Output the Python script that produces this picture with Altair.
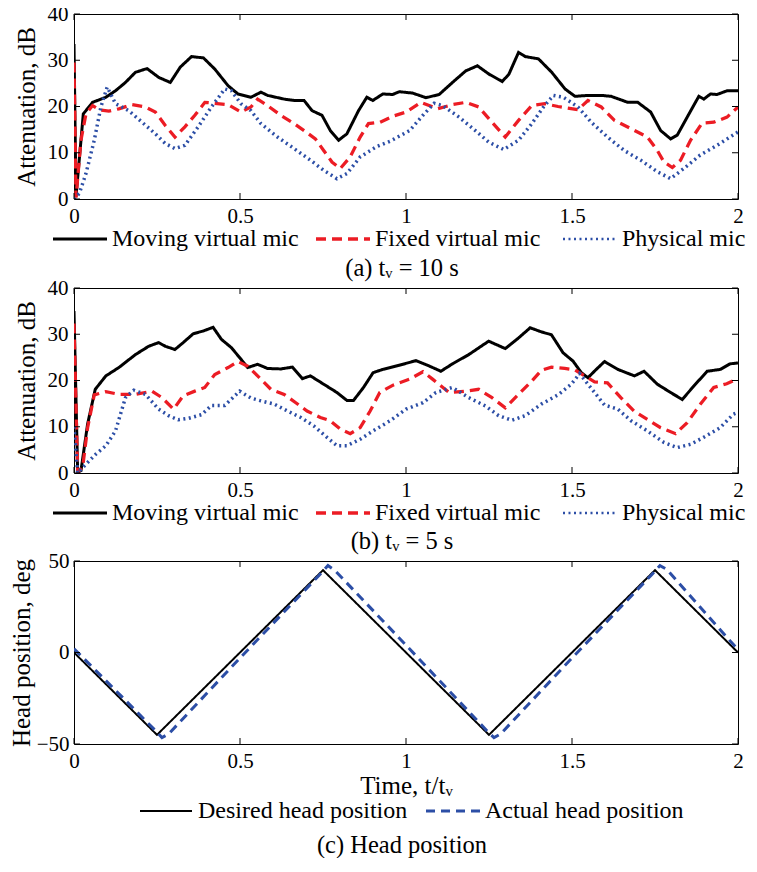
import altair as alt
import pandas as pd

FONT = "Liberation Serif"
W = 664
H_A, H_B, H_C = 185, 185, 183

# ---------------- data: panel (a) t_v = 10 s ----------------
a_mov_t = [0, 0.006, 0.028, 0.056, 0.096, 0.125, 0.155, 0.185, 0.22, 0.255, 0.29, 0.32, 0.354, 0.39, 0.424,
           0.464, 0.494, 0.533, 0.563, 0.583, 0.633, 0.663, 0.693, 0.717, 0.747, 0.772, 0.797, 0.822, 0.857, 0.882,
           0.9, 0.93, 0.96, 0.98, 1.02, 1.06, 1.1, 1.14, 1.18, 1.215, 1.25, 1.29, 1.31, 1.339, 1.359,
           1.399, 1.439, 1.479, 1.509, 1.548, 1.588, 1.618, 1.668, 1.698, 1.737, 1.767, 1.797, 1.817, 1.847, 1.882,
           1.897, 1.917, 1.937, 1.967, 2.0]
a_mov_v = [33.5, 0.5, 18.4, 20.9, 22.0, 23.4, 25.2, 27.4, 28.2, 26.3, 25.2, 28.5, 30.8, 30.5, 28.1,
           24.5, 22.7, 22.0, 23.1, 22.4, 21.6, 21.3, 21.3, 19.1, 18.1, 14.8, 12.7, 14.1, 19.1, 22.0,
           21.3, 22.7, 22.6, 23.2, 22.9, 21.9, 22.6, 25.2, 27.7, 28.8, 27.0, 25.4, 27.0, 31.7, 30.8,
           30.3, 27.4, 23.8, 22.2, 22.4, 22.4, 22.2, 20.9, 20.9, 18.8, 14.8, 13.0, 13.8, 17.7, 22.2,
           21.6, 22.7, 22.6, 23.4, 23.4]
a_fix_t = [0, 0.006, 0.021, 0.036, 0.056, 0.076, 0.105, 0.135, 0.175, 0.215, 0.245, 0.275, 0.304, 0.334, 0.364,
           0.394, 0.424, 0.464, 0.503, 0.533, 0.553, 0.583, 0.623, 0.663, 0.693, 0.727, 0.752, 0.777, 0.802, 0.832,
           0.862, 0.887, 0.922, 0.961, 1.0, 1.045, 1.095, 1.14, 1.18, 1.219, 1.259, 1.299, 1.339, 1.379, 1.418,
           1.458, 1.518, 1.548, 1.588, 1.628, 1.678, 1.727, 1.757, 1.777, 1.802, 1.827, 1.857, 1.892, 1.927, 1.967,
           2.0]
a_fix_v = [29.5, 0.3, 12.7, 18.4, 20.2, 19.3, 19.0, 19.5, 20.4, 19.9, 18.8, 15.9, 13.4, 15.6, 18.1,
           20.9, 20.7, 20.4, 18.8, 19.9, 21.6, 20.2, 18.1, 16.3, 14.8, 13.0, 10.5, 8.0, 6.6, 9.1,
           13.4, 16.3, 16.6, 17.9, 18.8, 20.9, 19.5, 20.4, 20.9, 19.9, 16.6, 13.4, 17.0, 20.2, 20.6,
           20.0, 19.3, 21.3, 19.9, 17.0, 15.2, 13.4, 10.5, 8.0, 6.8, 8.4, 12.7, 16.4, 16.6, 17.7,
           19.9]
a_phy_t = [0, 0.016, 0.036, 0.061, 0.081, 0.1, 0.125, 0.165, 0.205, 0.245, 0.275, 0.304, 0.334, 0.374, 0.414,
           0.454, 0.474, 0.503, 0.533, 0.563, 0.613, 0.663, 0.712, 0.752, 0.792, 0.822, 0.862, 0.911, 0.952, 1.011,
           1.051, 1.085, 1.11, 1.16, 1.209, 1.249, 1.294, 1.339, 1.379, 1.414, 1.444, 1.474, 1.518, 1.558, 1.607,
           1.657, 1.707, 1.757, 1.797, 1.837, 1.886, 1.937, 2.0]
a_phy_v = [0, 1.2, 5.5, 12.7, 19.9, 24.2, 20.6, 19.1, 16.6, 14.1, 12.0, 10.9, 11.6, 15.6, 19.9,
           23.8, 23.4, 20.6, 19.1, 16.3, 13.4, 10.9, 8.4, 6.2, 4.4, 5.5, 9.1, 11.3, 12.5, 14.8,
           18.1, 20.7, 20.2, 17.7, 14.8, 12.3, 10.7, 12.7, 16.3, 19.9, 22.4, 22.0, 19.9, 16.6, 13.4,
           10.5, 8.4, 5.9, 4.4, 6.6, 9.5, 11.6, 14.5]

# ---------------- data: panel (b) t_v = 5 s ----------------
b_mov_t = [0, 0.011, 0.021, 0.041, 0.064, 0.096, 0.135, 0.185, 0.225, 0.255, 0.275, 0.304, 0.329, 0.359, 0.389,
           0.419, 0.444, 0.474, 0.503, 0.523, 0.553, 0.583, 0.623, 0.658, 0.688, 0.712, 0.752, 0.792, 0.822, 0.842,
           0.872, 0.901, 0.93, 0.98, 1.03, 1.071, 1.105, 1.14, 1.189, 1.249, 1.299, 1.339, 1.374, 1.408, 1.438,
           1.473, 1.503, 1.528, 1.548, 1.573, 1.598, 1.638, 1.688, 1.717, 1.757, 1.797, 1.832, 1.867, 1.907, 1.947,
           1.976, 2.0]
b_mov_v = [35, 0.2, 0.5, 10.6, 18.1, 21.0, 22.8, 25.6, 27.4, 28.2, 27.4, 26.7, 28.2, 30.1, 30.7,
           31.5, 28.9, 27.1, 24.6, 22.8, 23.5, 22.6, 22.5, 22.9, 20.4, 21.0, 19.2, 17.4, 15.7, 15.7,
           18.5, 21.7, 22.4, 23.3, 24.3, 23.1, 22.0, 23.6, 25.6, 28.5, 26.9, 29.2, 31.4, 30.5, 29.9,
           26.0, 24.2, 21.7, 20.6, 22.4, 24.1, 22.4, 21.0, 22.0, 19.2, 17.4, 15.9, 18.8, 22.0, 22.4,
           23.6, 23.8]
b_fix_t = [0, 0.011, 0.026, 0.041, 0.061, 0.096, 0.135, 0.185, 0.235, 0.265, 0.3, 0.329, 0.364, 0.394, 0.424,
           0.464, 0.494, 0.523, 0.553, 0.593, 0.633, 0.668, 0.702, 0.742, 0.772, 0.802, 0.832, 0.862, 0.892, 0.921,
           0.961, 0.98, 1.011, 1.051, 1.08, 1.13, 1.18, 1.219, 1.259, 1.299, 1.339, 1.379, 1.408, 1.438, 1.478,
           1.508, 1.538, 1.568, 1.607, 1.647, 1.687, 1.727, 1.767, 1.812, 1.847, 1.887, 1.927, 1.966, 2.0]
b_fix_v = [32.3, 0.2, 1.2, 9.8, 16.9, 17.6, 17.0, 17.0, 17.7, 16.3, 13.8, 16.7, 17.7, 18.5, 21.3,
           22.8, 24.1, 23.1, 21.0, 18.1, 17.0, 15.2, 13.4, 12.0, 11.3, 9.5, 8.5, 9.8, 13.4, 17.4,
           19.0, 19.5, 20.3, 21.9, 20.3, 17.4, 17.7, 18.1, 16.3, 14.1, 17.0, 19.9, 22.2, 22.9, 22.6,
           22.3, 21.0, 19.7, 19.5, 16.3, 13.4, 11.6, 9.8, 8.5, 10.9, 14.9, 18.5, 19.3, 20.4]
b_phy_t = [0, 0.011, 0.036, 0.066, 0.096, 0.125, 0.155, 0.18, 0.215, 0.255, 0.285, 0.314, 0.344, 0.384, 0.414,
           0.454, 0.499, 0.533, 0.563, 0.603, 0.643, 0.683, 0.722, 0.762, 0.792, 0.822, 0.862, 0.901, 0.952, 1.0,
           1.051, 1.09, 1.14, 1.189, 1.239, 1.279, 1.319, 1.359, 1.408, 1.458, 1.498, 1.523, 1.548, 1.598, 1.638,
           1.678, 1.727, 1.777, 1.817, 1.857, 1.896, 1.946, 1.986, 2.0]
b_phy_v = [10, 0, 1.9, 4.1, 5.9, 9.1, 16.3, 17.9, 17.0, 13.8, 12.4, 11.5, 11.8, 12.6, 14.6,
           14.6, 17.7, 16.2, 15.6, 14.9, 13.4, 12.0, 10.2, 7.7, 5.9, 5.9, 7.3, 9.1, 11.3, 13.8,
           15.2, 17.4, 18.5, 16.3, 14.5, 12.4, 11.4, 12.4, 14.9, 16.9, 19.2, 21.5, 19.2, 14.7, 13.8,
           11.3, 9.1, 6.6, 5.5, 6.2, 7.7, 9.8, 12.7, 13.1]

# ---------------- data: panel (c) head position ----------------
c_des_t = [0, 0.25, 0.75, 1.25, 1.75, 2.0]
c_des_v = [0, -45, 45, -45, 45, 0]
c_act_t = [0, 0.05, 0.25, 0.265, 0.285, 0.5, 0.74, 0.765, 0.785, 1.0, 1.245, 1.265, 1.285, 1.5, 1.74, 1.765,
           1.785, 2.0]
c_act_v = [2, -7, -43.5, -46.5, -44.5, -3, 42.5, 47.5, 45, 4, -43, -46.5, -44.5, -3, 42.5, 47.5,
           45.5, 1.5]

# ---------------- labels / ticks ----------------
mic_names = ["Moving virtual mic", "Fixed virtual mic", "Physical mic"]
head_names = ["Desired head position", "Actual head position"]
x_ticks = [0, 0.5, 1, 1.5, 2]
att_ticks = [0, 10, 20, 30, 40]
head_ticks = [-50, 0, 50]
captions = ["(a) tᵥ = 10 s", "(b) tᵥ = 5 s", "(c) Head position"]
x_title = "Time, t/tᵥ"
att_title = "Attenuation, dB"
head_title = "Head position, deg"

# ---------------- styles ----------------
BLACK = "#000000"
RED = "#ec1c24"
BLUE = "#2c4ea6"
mic_colors = [BLACK, RED, BLUE]
mic_dashes = [[1, 0], [10, 6], [2, 3.5]]
mic_widths = [3, 3.5, 2.5]
head_colors = [BLACK, BLUE]
head_dashes = [[1, 0], [9, 6]]
head_widths = [2, 3]

# legend / caption layout (pixels, relative to each plot's top-left corner)
MIC_LEG_SYM = [(-21, 33), (242, 296), (489, 543)]
MIC_LEG_TXT = [38, 301, 548]
HEAD_LEG_SYM = [(66, 118), (352, 406)]
HEAD_LEG_TXT = [124, 411]
CAP_X = 328


def long_df(series):
    rows = []
    for name, ts, vs in series:
        for t, v in zip(ts, vs):
            rows.append({"t": t, "v": v, "s": name})
    return pd.DataFrame(rows)


def panel(df, names, colors, dashes, widths, ydomain, yticks, ytitle, h,
          caption, leg_sym, leg_txt, leg_y, cap_y, xtitle=None, ytitle_pad=6, ylabel_pad=6):
    xaxis = alt.Axis(values=x_ticks, labelFont=FONT, labelFontSize=21, labelColor="black",
                     labelPadding=6, domain=False, ticks=False, grid=False, labelFlush=False,
                     format="~g", title=xtitle if xtitle else None,
                     titleFont=FONT, titleFontSize=25, titleFontWeight="normal", titleColor="black",
                     titlePadding=2)
    yaxis = alt.Axis(values=yticks, labelFont=FONT, labelFontSize=21, labelColor="black",
                     labelPadding=ylabel_pad, domain=False, ticks=False, grid=False, labelFlush=False,
                     title=ytitle, titleFont=FONT, titleFontSize=25, titleFontWeight="normal",
                     titleColor="black", titlePadding=ytitle_pad)
    x = alt.X("t:Q", scale=alt.Scale(domain=[0, 2], nice=False, zero=False), axis=xaxis)
    y = alt.Y("v:Q", scale=alt.Scale(domain=ydomain, nice=False, zero=False), axis=yaxis)
    lines = alt.Chart(df).mark_line(clip=True).encode(
        x=x, y=y,
        color=alt.Color("s:N", scale=alt.Scale(domain=names, range=colors), legend=None),
        strokeDash=alt.StrokeDash("s:N", scale=alt.Scale(domain=names, range=dashes), legend=None),
        strokeWidth=alt.StrokeWidth("s:N", scale=alt.Scale(domain=names, range=widths), legend=None),
    )
    L = 6
    xdf = pd.DataFrame({"t": x_ticks})
    ydf = pd.DataFrame({"v": yticks})
    layers = [lines]
    layers.append(alt.Chart(xdf).mark_rule(color="black", strokeWidth=1).encode(
        x=x, y=alt.value(0), y2=alt.value(L)))
    layers.append(alt.Chart(xdf).mark_rule(color="black", strokeWidth=1).encode(
        x=x, y=alt.value(h - L), y2=alt.value(h)))
    layers.append(alt.Chart(ydf).mark_rule(color="black", strokeWidth=1).encode(
        y=y, x=alt.value(0), x2=alt.value(L)))
    layers.append(alt.Chart(ydf).mark_rule(color="black", strokeWidth=1).encode(
        y=y, x=alt.value(W - L), x2=alt.value(W)))
    # legend entries
    for i, name in enumerate(names):
        one = pd.DataFrame({"s": [name]})
        layers.append(alt.Chart(one).mark_rule(
            color=colors[i], strokeDash=dashes[i], strokeWidth=widths[i]
        ).encode(x=alt.value(leg_sym[i][0]), x2=alt.value(leg_sym[i][1]), y=alt.value(leg_y)))
        layers.append(alt.Chart(one).mark_text(
            align="left", baseline="middle", font=FONT, fontSize=24, color="black"
        ).encode(x=alt.value(leg_txt[i]), y=alt.value(leg_y), text="s:N"))
    # caption
    cap = pd.DataFrame({"c": [caption]})
    layers.append(alt.Chart(cap).mark_text(
        align="center", baseline="middle", font=FONT, fontSize=24.5, color="black"
    ).encode(x=alt.value(CAP_X), y=alt.value(cap_y), text="c:N"))
    return alt.layer(*layers).properties(width=W, height=h)


df_a = long_df([(mic_names[0], a_mov_t, a_mov_v), (mic_names[1], a_fix_t, a_fix_v),
                (mic_names[2], a_phy_t, a_phy_v)])
df_b = long_df([(mic_names[0], b_mov_t, b_mov_v), (mic_names[1], b_fix_t, b_fix_v),
                (mic_names[2], b_phy_t, b_phy_v)])
df_c = long_df([(head_names[0], c_des_t, c_des_v), (head_names[1], c_act_t, c_act_v)])

pa = panel(df_a, mic_names, mic_colors, mic_dashes, mic_widths, [0, 40], att_ticks, att_title, H_A,
           captions[0], MIC_LEG_SYM, MIC_LEG_TXT, H_A + 40, H_A + 70, ytitle_pad=8)
pb = panel(df_b, mic_names, mic_colors, mic_dashes, mic_widths, [0, 40], att_ticks, att_title, H_B,
           captions[1], MIC_LEG_SYM, MIC_LEG_TXT, H_B + 40, H_B + 69, ytitle_pad=8)
pc = panel(df_c, head_names, head_colors, head_dashes, head_widths, [-50, 50], head_ticks, head_title,
           H_C, captions[2], HEAD_LEG_SYM, HEAD_LEG_TXT, H_C + 67, H_C + 102, xtitle=x_title,
           ytitle_pad=2, ylabel_pad=5)

chart = alt.vconcat(pa, pb, pc, spacing=-5).resolve_scale(
    x="independent", y="independent", color="independent", strokeDash="independent",
    strokeWidth="independent"
).properties(
    padding={"left": 0, "top": -6, "right": 0, "bottom": 0}
).configure(
    background="white", font=FONT
).configure_view(
    stroke="black", strokeWidth=1, fill="white"
).configure_axis(
    labelFont=FONT, titleFont=FONT
)

chart.save("out.html", embed_options={"renderer": "svg", "actions": False})
